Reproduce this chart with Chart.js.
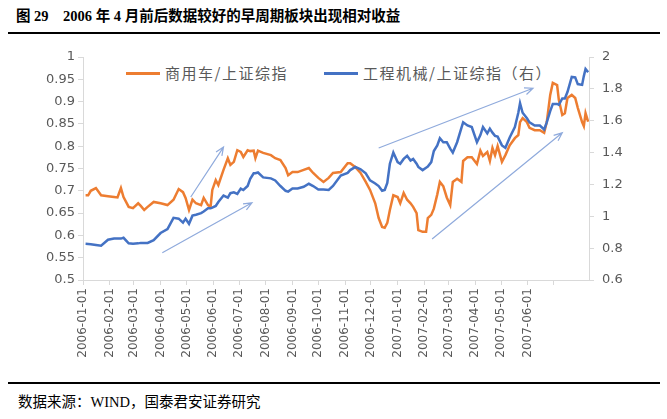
<!DOCTYPE html>
<html>
<head>
<meta charset="utf-8">
<script src="https://cdn.jsdelivr.net/npm/chart.js@4.4.1/dist/chart.umd.min.js"></script>
<style>
  body { margin: 0; width: 667px; height: 419px; background: #fff; position: relative; overflow: hidden; }
  #title { position: absolute; left: 16px; top: 4px; font: bold 14.5px "Liberation Serif", "Noto Sans CJK SC", serif; color: #000; white-space: pre; }
  .rule { position: absolute; left: 8px; width: 652px; height: 2px; background: #000; }
  #src { position: absolute; left: 18px; top: 390px; font: 14.5px "Liberation Serif", "Noto Sans CJK SC", serif; color: #000; }
  .lg { position: absolute; top: 62px; font: 15px "Noto Sans CJK SC", sans-serif; color: #595959; letter-spacing: 1.5px; }
  .lgline { position: absolute; top: 72px; width: 34px; height: 3px; }
  #wrap { position: absolute; left: 0; top: 40px; width: 667px; height: 340px; }
</style>
</head>
<body>
<div id="title">图 29    2006 年 4 月前后数据较好的早周期板块出现相对收益</div>
<div class="rule" style="top:32px"></div>
<div class="lgline" style="left:126px;background:#ED7D31"></div>
<div class="lg" style="left:165px">商用车/上证综指</div>
<div class="lgline" style="left:324px;background:#4472C4"></div>
<div class="lg" style="left:363px">工程机械/上证综指（右）</div>
<div id="wrap"><canvas id="c" width="667" height="340"></canvas></div>
<div class="rule" style="top:382px"></div>
<div id="src">数据来源：WIND，国泰君安证券研究</div>
<script>
// 交易日期
const dates = [
  '2006-01-04','2006-01-07','2006-01-10','2006-01-16','2006-01-22','2006-01-30','2006-02-06','2006-02-10','2006-02-14','2006-02-17',
  '2006-02-23','2006-02-28','2006-03-06','2006-03-09','2006-03-13','2006-03-17','2006-03-24','2006-04-01','2006-04-09','2006-04-16',
  '2006-04-22','2006-04-27','2006-04-30','2006-05-04','2006-05-08','2006-05-12','2006-05-18','2006-05-21','2006-05-26','2006-05-29',
  '2006-05-31','2006-06-04','2006-06-07','2006-06-13','2006-06-18','2006-06-21','2006-06-25','2006-06-29','2006-07-03','2006-07-06',
  '2006-07-11','2006-07-14','2006-07-18','2006-07-20','2006-07-23','2006-07-29','2006-08-07','2006-08-12','2006-08-18','2006-08-24',
  '2006-08-27','2006-09-01','2006-09-07','2006-09-14','2006-09-20','2006-09-25','2006-10-01','2006-10-07','2006-10-13','2006-10-18',
  '2006-10-27','2006-11-04','2006-11-07','2006-11-13','2006-11-19','2006-11-25','2006-11-30','2006-12-06','2006-12-10','2006-12-14',
  '2006-12-17','2006-12-20','2006-12-23','2006-12-27','2007-01-01','2007-01-04','2007-01-08','2007-01-12','2007-01-16','2007-01-19',
  '2007-01-23','2007-01-25','2007-01-30','2007-02-03','2007-02-05','2007-02-09','2007-02-12','2007-02-16','2007-02-19','2007-02-23',
  '2007-02-27','2007-03-03','2007-03-06','2007-03-11','2007-03-16','2007-03-18','2007-03-23','2007-03-28','2007-04-03','2007-04-07',
  '2007-04-10','2007-04-15','2007-04-18','2007-04-21','2007-04-24','2007-04-27','2007-05-02','2007-05-06','2007-05-11','2007-05-17',
  '2007-05-21','2007-05-23','2007-05-26','2007-05-31','2007-06-03','2007-06-09','2007-06-15','2007-06-20','2007-06-23','2007-06-27',
  '2007-06-30','2007-07-05','2007-07-07','2007-07-11','2007-07-14','2007-07-17','2007-07-22','2007-07-26','2007-07-29','2007-08-03',
  '2007-08-05','2007-08-07','2007-08-10'
];

// 商用车/上证综指（左轴）
const truckRatio = [
  0.69,0.69,0.70,0.706,0.69,0.688,0.686,0.685,0.706,0.686,
  0.664,0.661,0.672,0.666,0.657,0.664,0.675,0.672,0.668,0.68,
  0.704,0.697,0.684,0.657,0.68,0.672,0.668,0.684,0.668,0.664,
  0.702,0.724,0.713,0.747,0.773,0.758,0.765,0.791,0.787,0.776,
  0.791,0.789,0.79,0.773,0.79,0.785,0.78,0.773,0.769,0.751,
  0.735,0.742,0.742,0.747,0.751,0.74,0.729,0.72,0.729,0.74,
  0.742,0.762,0.762,0.753,0.74,0.72,0.702,0.672,0.639,0.619,
  0.617,0.628,0.657,0.69,0.686,0.672,0.695,0.68,0.672,0.664,
  0.65,0.612,0.608,0.608,0.639,0.646,0.66,0.692,0.72,0.71,
  0.685,0.668,0.72,0.727,0.72,0.767,0.775,0.775,0.76,0.79,
  0.778,0.787,0.767,0.796,0.78,0.8,0.765,0.78,0.802,0.818,
  0.825,0.854,0.863,0.854,0.841,0.836,0.836,0.83,0.854,0.915,
  0.942,0.937,0.904,0.87,0.874,0.908,0.915,0.908,0.886,0.854,
  0.845,0.874,0.855
];

// 工程机械/上证综指（右轴）
const machineryRatio = [
  0.827,0.826,0.825,0.82,0.815,0.853,0.86,0.86,0.86,0.865,
  0.83,0.827,0.83,0.833,0.833,0.833,0.85,0.895,0.92,0.99,
  0.985,0.96,0.985,0.953,1.004,1.01,1.02,1.03,1.05,1.05,
  1.054,1.065,1.09,1.13,1.117,1.145,1.15,1.14,1.174,1.165,
  1.19,1.235,1.27,1.27,1.275,1.244,1.238,1.225,1.19,1.16,
  1.155,1.174,1.174,1.185,1.204,1.19,1.168,1.168,1.165,1.19,
  1.256,1.272,1.29,1.31,1.295,1.27,1.225,1.206,1.19,1.16,
  1.165,1.21,1.33,1.40,1.34,1.33,1.36,1.38,1.35,1.36,
  1.33,1.31,1.29,1.305,1.312,1.34,1.41,1.445,1.49,1.465,
  1.465,1.425,1.40,1.465,1.555,1.59,1.57,1.56,1.465,1.51,
  1.56,1.52,1.55,1.525,1.505,1.50,1.445,1.43,1.495,1.56,
  1.65,1.71,1.65,1.615,1.59,1.57,1.57,1.545,1.59,1.66,
  1.705,1.705,1.70,1.74,1.74,1.78,1.875,1.872,1.83,1.825,
  1.88,1.925,1.905
];

// x 轴刻度（每月一日），最后一个刻度不标注
const tickDates = [
  '2006-01-01','2006-02-01','2006-03-01','2006-04-01','2006-05-01','2006-06-01','2006-07-01','2006-08-01','2006-09-01','2006-10-01',
  '2006-11-01','2006-12-01','2007-01-01','2007-02-01','2007-03-01','2007-04-01','2007-05-01','2007-06-01','2007-07-01'
];
const labelledTicks = 18;
const axisEnd = '2007-08-11';

// 趋势箭头：[起点日期, 左轴值, 终点日期, 左轴值]
const arrows = [
  ['2006-05-06', 0.686, '2006-06-13', 0.798],
  ['2006-04-03', 0.561, '2006-07-16', 0.673],
  ['2006-12-10', 0.796, '2007-06-07', 0.930],
  ['2007-02-10', 0.592, '2007-07-11', 0.830]
];

function dayOf(s) {
  let p = s.split('-');
  return (Date.UTC(+p[0], +p[1] - 1, +p[2]) - Date.UTC(2006, 0, 1)) / 86400000;
}

const arrowPlugin = {
  id: 'arrows',
  afterDatasetsDraw(chart) {
    const ctx = chart.ctx, xs = chart.scales.x, ys = chart.scales.y;
    ctx.save();
    ctx.strokeStyle = '#8FAADC';
    ctx.lineWidth = 1.2;
    arrows.forEach(a => {
      let x1 = xs.getPixelForValue(dayOf(a[0])), y1 = ys.getPixelForValue(a[1]);
      let x2 = xs.getPixelForValue(dayOf(a[2])), y2 = ys.getPixelForValue(a[3]);
      let ang = Math.atan2(y2 - y1, x2 - x1), h = 9;
      ctx.beginPath();
      ctx.moveTo(x1, y1);
      ctx.lineTo(x2, y2);
      ctx.moveTo(x2 - h * Math.cos(ang - 0.4), y2 - h * Math.sin(ang - 0.4));
      ctx.lineTo(x2, y2);
      ctx.lineTo(x2 - h * Math.cos(ang + 0.4), y2 - h * Math.sin(ang + 0.4));
      ctx.stroke();
    });
    ctx.restore();
  }
};

const axisGrey = '#D9D9D9';
const tickFont = { family: 'DejaVu Sans', size: 13 };

new Chart(document.getElementById('c').getContext('2d'), {
  type: 'line',
  data: {
    datasets: [{
      label: '工程机械/上证综指（右）',
      data: dates.map((d, i) => ({ x: dayOf(d), y: machineryRatio[i] })),
      borderColor: '#4472C4',
      borderWidth: 2.5,
      yAxisID: 'y1',
      order: 0
    }, {
      label: '商用车/上证综指',
      data: dates.map((d, i) => ({ x: dayOf(d), y: truckRatio[i] })),
      borderColor: '#ED7D31',
      borderWidth: 2.5,
      yAxisID: 'y',
      order: 1
    }]
  },
  options: {
    responsive: false,
    animation: false,
    layout: { padding: { top: 17 } },
    elements: { point: { radius: 0 }, line: { tension: 0 } },
    plugins: { legend: { display: false }, tooltip: { enabled: false } },
    scales: {
      x: {
        type: 'linear',
        min: 0,
        max: dayOf(axisEnd),
        grid: { drawOnChartArea: false, color: axisGrey, tickLength: 5 },
        border: { color: axisGrey },
        ticks: {
          autoSkip: false, minRotation: 90, maxRotation: 90, padding: 3,
          color: '#595959', font: { family: 'DejaVu Sans', size: 12 },
          callback: (v, i) => i < labelledTicks ? tickDates[i] : ''
        },
        afterBuildTicks: s => { s.ticks = tickDates.map(d => ({ value: dayOf(d) })); },
        afterFit: s => { s.height = 100; }
      },
      y: {
        position: 'left',
        min: 0.5, max: 1,
        grid: { drawOnChartArea: false, color: axisGrey, tickLength: 5 },
        border: { color: axisGrey },
        ticks: { stepSize: 0.05, color: '#595959', font: tickFont, padding: 3,
          callback: v => String(Number(v.toFixed(2))) },
        afterFit: s => { s.width = 83; }
      },
      y1: {
        position: 'right',
        min: 0.6, max: 2,
        grid: { drawOnChartArea: false, color: axisGrey, tickLength: 5 },
        border: { color: axisGrey },
        ticks: { stepSize: 0.2, color: '#595959', font: tickFont, padding: 8,
          callback: v => String(Number(v.toFixed(1))) },
        afterFit: s => { s.width = 78; }
      }
    }
  },
  plugins: [arrowPlugin]
});
</script>
</body>
</html>
